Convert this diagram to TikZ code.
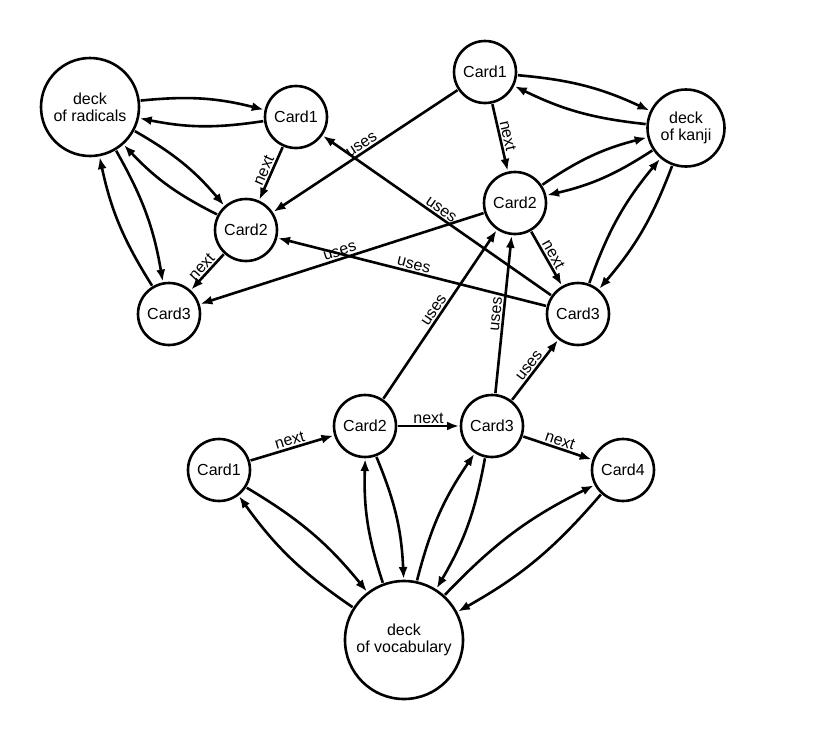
\documentclass[tikz,border=0pt]{standalone}
\usepackage{fontspec}
\setmainfont{Liberation Sans}
\usetikzlibrary{arrows.meta}

\begin{document}
\begin{tikzpicture}[x=1pt,y=-1pt,line width=2.6pt,
    every node/.style={font=\fontsize{16}{17}\selectfont},
    card/.style={draw,circle,minimum size=62pt,inner sep=0pt,outer sep=2pt},
    deck/.style={card,align=center},
    lbl/.style={sloped,above,midway,inner sep=1.5pt},
    >={Latex[length=12pt,width=9pt]}]
      \useasboundingbox (0,0) rectangle (815,729);
      \draw
        (90,107) node[deck,minimum size=98pt] (r){deck\\of radicals}
        (296,117) node[card] (r1){Card1}
        (246,230) node[card] (r2){Card2}
        (169,314) node[card] (r3){Card3}
        (686,128) node[deck,minimum size=77pt] (k){deck\\of kanji}
        (485,72) node[card] (k1){Card1}
        (515,203) node[card] (k2){Card2}
        (578,314) node[card] (k3){Card3}
        (404,640) node[deck,minimum size=118pt] (v){deck\\of vocabulary}
        (219,470) node[card] (v1){Card1}
        (365,426) node[card] (v2){Card2}
        (492,426) node[card] (v3){Card3}
        (623,470) node[card] (v4){Card4};
      \begin{scope}[->,bend left=10]
        \draw (r) to (r1);
        \draw (r1) to (r);
        \draw (r) to (r2);
        \draw (r2) to (r);
        \draw (r) to (r3);
        \draw (r3) to (r);
        \draw (k1) to (k);
        \draw (k) to (k1);
        \draw (k2) to (k);
        \draw (k) to (k2);
        \draw (k3) to (k);
        \draw (k) to (k3);
        \draw (v1) to (v);
        \draw (v) to (v1);
        \draw (v2) to (v);
        \draw (v) to (v2);
        \draw (v3) to (v);
        \draw (v) to (v3);
        \draw (v4) to (v);
        \draw (v) to (v4);
      \end{scope}
      \begin{scope}[->]
        \draw (r1) to node[lbl]{next} (r2);
        \draw (r2) to node[lbl]{next} (r3);
        \draw (k1) to node[lbl]{next} (k2);
        \draw (k2) to node[lbl]{next} (k3);
        \draw (v1) to node[lbl]{next} (v2);
        \draw (v2) to node[lbl]{next} (v3);
        \draw (v3) to node[lbl]{next} (v4);
        \draw (k1) to node[lbl]{uses} (r2);
        \draw (k2) to node[lbl]{uses} (r3);
        \draw (k3) to node[lbl]{uses} (r1);
        \draw (k3) to node[lbl]{uses} (r2);
        \draw (v2) to node[lbl]{uses} (k2);
        \draw (v3) to node[lbl]{uses} (k2);
        \draw (v3) to node[lbl]{uses} (k3);
      \end{scope}
    \end{tikzpicture}
\end{document}
